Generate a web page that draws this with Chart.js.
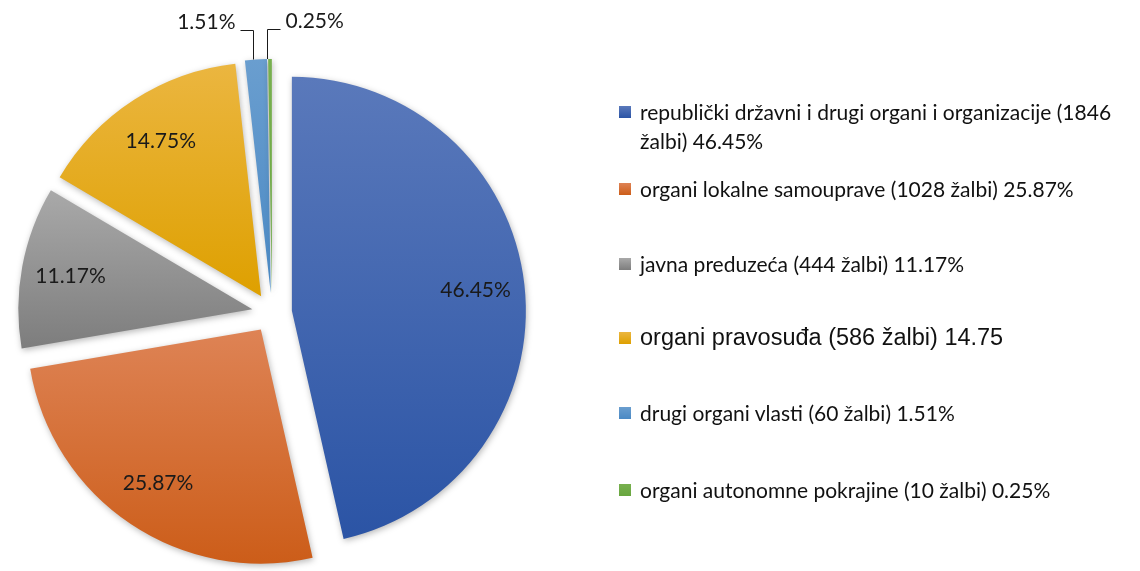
<!DOCTYPE html>
<html>
<head>
<meta charset="utf-8">
<script src="https://cdn.jsdelivr.net/npm/chart.js@4.4.1/dist/chart.umd.min.js"></script>
<style>
  body { margin: 0; background: #fff; }
  #wrap { position: relative; width: 1140px; height: 571px; overflow: hidden; }
  #pie { position: absolute; left: 0; top: 0; }
  .legend-item { position: absolute; left: 619px; width: 523px; display: flex; align-items: flex-start;
                 font-family: Lato, "Noto Sans", sans-serif; font-size: 21px; line-height: 29px; color: #111; }
  .legend-item .box { width: 12px; height: 12px; flex: none; margin: 9px 9px 0 0; }
  .legend-item.alt { font-family: "Liberation Sans", Arial, sans-serif; font-size: 23.5px; }
</style>
</head>
<body>
<div id="wrap">
  <canvas id="pie" width="1140" height="571"></canvas>
  <div id="legend"></div>
</div>
<script>
// categories (legend text) and values
const categories = [
  'republički državni i drugi organi i organizacije (1846 žalbi) 46.45%',
  'organi lokalne samouprave (1028 žalbi) 25.87%',
  'javna preduzeća (444 žalbi) 11.17%',
  'organi pravosuđa (586 žalbi) 14.75',
  'drugi organi vlasti (60 žalbi) 1.51%',
  'organi autonomne pokrajine (10 žalbi) 0.25%'
];
const complaints = [1846, 1028, 444, 586, 60, 10];
const percentLabels = ['46.45%', '25.87%', '11.17%', '14.75%', '1.51%', '0.25%'];

// gradient colours, top -> bottom of each slice
const topColors = ['#5a79bb', '#de8355', '#a9a9a9', '#ebb640', '#6a9ecf', '#78b04f'];
const bottomColors = ['#2b54a5', '#cc5d19', '#7d7d7d', '#dea000', '#4a89c4', '#68a63f'];

const explode = 20;

// build the html legend (the 4th entry is in a different font in the original)
const legendTops = [97, 174, 249, 323, 398, 475];
const legendEl = document.getElementById('legend');
categories.forEach((txt, i) => {
    const item = document.createElement('div');
    item.className = 'legend-item' + (i === 3 ? ' alt' : '');
    item.style.top = legendTops[i] + 'px';
    const box = document.createElement('span');
    box.className = 'box';
    box.style.background = 'linear-gradient(' + topColors[i] + ',' + bottomColors[i] + ')';
    const label = document.createElement('span');
    label.textContent = txt;
    item.appendChild(box);
    item.appendChild(label);
    legendEl.appendChild(item);
});

const explodePlugin = {
    id: 'explode',
    afterDatasetsUpdate(chart) {
        const ctx = chart.ctx;
        chart.getDatasetMeta(0).data.forEach((arc, i) => {
            const mid = (arc.startAngle + arc.endAngle) / 2;
            arc.x += Math.cos(mid) * explode;
            arc.y += Math.sin(mid) * explode;
            // vertical extent of the sector for the gradient
            let minY = arc.y, maxY = arc.y;
            for (let k = 0; k <= 40; k++) {
                const a = arc.startAngle + (arc.endAngle - arc.startAngle) * k / 40;
                const y = arc.y + Math.sin(a) * arc.outerRadius;
                minY = Math.min(minY, y);
                maxY = Math.max(maxY, y);
            }
            const g = ctx.createLinearGradient(0, minY, 0, maxY);
            g.addColorStop(0, topColors[i]);
            g.addColorStop(1, bottomColors[i]);
            arc.options = Object.assign({}, arc.options, { backgroundColor: g });
        });
    },
    beforeDatasetsDraw(chart) {
        const ctx = chart.ctx;
        ctx.save();
        ctx.shadowColor = 'rgba(0,0,0,0.28)';
        ctx.shadowBlur = 6;
        ctx.shadowOffsetX = 1;
        ctx.shadowOffsetY = 2;
    },
    afterDatasetsDraw(chart) {
        const ctx = chart.ctx;
        ctx.restore();
        ctx.save();
        ctx.font = '21px Lato, "Noto Sans", sans-serif';
        ctx.fillStyle = '#1a1a1a';
        ctx.strokeStyle = '#1a1a1a';
        ctx.lineWidth = 1;
        let side = -1;
        chart.getDatasetMeta(0).data.forEach((arc, i) => {
            const mid = (arc.startAngle + arc.endAngle) / 2;
            const share = (arc.endAngle - arc.startAngle) / (Math.PI * 2);
            if (share > 0.03) {
                const r = arc.outerRadius * 0.79;
                ctx.textAlign = 'center';
                ctx.textBaseline = 'middle';
                ctx.fillText(percentLabels[i], arc.x + Math.cos(mid) * r, arc.y + Math.sin(mid) * r);
            } else {
                // small slices: label outside with an elbow leader line
                const px = Math.round(arc.x + Math.cos(mid) * arc.outerRadius) - 2.5;
                const py = arc.y + Math.sin(mid) * arc.outerRadius;
                const ly = Math.round(py - 30) + 0.5;
                ctx.beginPath();
                ctx.moveTo(px, py);
                ctx.lineTo(px, ly);
                ctx.lineTo(px + side * 13, ly);
                ctx.stroke();
                ctx.textAlign = side < 0 ? 'right' : 'left';
                ctx.textBaseline = 'middle';
                ctx.fillText(percentLabels[i], px + side * 18, ly - 8);
                side = -side;
            }
        });
        ctx.restore();
    }
};

new Chart(document.getElementById('pie').getContext('2d'), {
    type: 'pie',
    data: {
        labels: categories,
        datasets: [{
            data: complaints,
            backgroundColor: topColors,
            borderWidth: 0
        }]
    },
    options: {
        responsive: false,
        animation: false,
        layout: { padding: { left: 36, right: 632, top: 79, bottom: 24 } },
        plugins: {
            legend: { display: false },
            tooltip: { enabled: false }
        }
    },
    plugins: [explodePlugin]
});
</script>
</body>
</html>
